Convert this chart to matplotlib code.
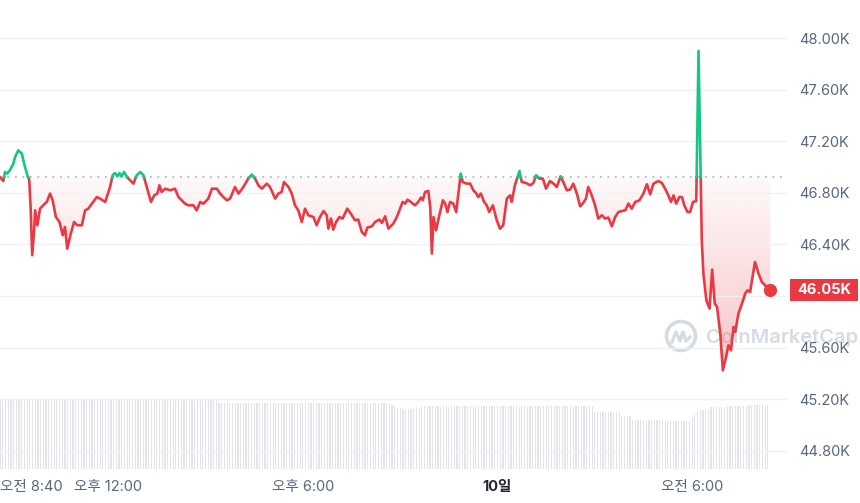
import numpy as np
import matplotlib.pyplot as plt
from matplotlib.patches import Polygon, Rectangle, Circle
from matplotlib.lines import Line2D
from matplotlib.ticker import FuncFormatter

plt.rcParams["font.family"] = ["Inter", "Noto Sans CJK KR", "DejaVu Sans"]

C_UP = "#16c784"
C_DN = "#ea3943"
C_TXT = "#58667e"
C_GRID = "#eff2f5"

# hours since 00:00 of day 9 (24+ = day 10)
times = [8.67, 8.77, 8.82, 8.89, 8.97, 9.08, 9.13, 9.23, 9.34, 9.41, 9.51, 9.57, 9.61, 9.66,
         9.72, 9.75, 9.82, 9.90, 10.00, 10.11, 10.21, 10.29, 10.39, 10.50, 10.60, 10.67, 10.74,
         10.85, 10.95, 11.05, 11.19, 11.29, 11.39, 11.50, 11.65, 11.75, 11.91, 12.06, 12.14,
         12.21, 12.29, 12.35, 12.42, 12.49, 12.58, 12.68, 12.78, 12.88, 12.99, 13.09, 13.19,
         13.32, 13.42, 13.52, 13.58, 13.65, 13.76, 13.91, 14.06, 14.17, 14.27, 14.37, 14.47,
         14.63, 14.73, 14.84, 14.94, 15.09, 15.20, 15.35, 15.45, 15.55, 15.66, 15.76, 15.91,
         16.02, 16.17, 16.32, 16.43, 16.53, 16.63, 16.74, 16.89, 16.99, 17.15, 17.25, 17.35,
         17.42, 17.56, 17.66, 17.76, 17.86, 17.97, 18.07, 18.17, 18.33, 18.43, 18.53, 18.64,
         18.74, 18.79, 18.87, 18.94, 19.03, 19.13, 19.23, 19.37, 19.48, 19.61, 19.71, 19.82,
         19.92, 19.99, 20.13, 20.23, 20.36, 20.44, 20.54, 20.64, 20.79, 20.90, 21.00, 21.08,
         21.16, 21.23, 21.33, 21.46, 21.56, 21.64, 21.70, 21.77, 21.87, 21.93, 21.98, 22.03,
         22.11, 22.21, 22.32, 22.39, 22.46, 22.54, 22.64, 22.73, 22.87, 22.93, 23.04, 23.16,
         23.26, 23.34, 23.41, 23.49, 23.59, 23.67, 23.75, 23.86, 23.98, 24.08, 24.18, 24.29,
         24.39, 24.44, 24.54, 24.68, 24.75, 24.88, 25.01, 25.11, 25.19, 25.29, 25.40, 25.50,
         25.62, 25.73, 25.83, 25.95, 26.03, 26.14, 26.24, 26.34, 26.45, 26.55, 26.63, 26.73,
         26.80, 26.91, 27.01, 27.11, 27.22, 27.32, 27.42, 27.53, 27.63, 27.73, 27.84, 27.94,
         28.04, 28.14, 28.25, 28.38, 28.50, 28.61, 28.71, 28.81, 28.96, 29.07, 29.17, 29.27,
         29.35, 29.43, 29.51, 29.61, 29.69, 29.76, 29.86, 29.94, 30.03, 30.13, 30.20, 30.30,
         30.35, 30.44, 30.54, 30.62, 30.70, 30.77, 30.87, 30.95, 31.05, 31.12, 31.20, 31.28,
         31.33, 31.43, 31.54, 31.64, 31.71, 31.79, 31.94, 32.05, 32.15, 32.25, 32.41]

price = [46920, 46891, 46961, 46949, 46974, 47026, 47077, 47129, 47104, 47026, 46936, 46897, 46690, 46316,
         46509, 46664, 46548, 46677, 46703, 46729, 46794, 46742, 46612, 46574, 46471, 46535, 46367,
         46484, 46574, 46548, 46548, 46664, 46677, 46716, 46767, 46755, 46729, 46845, 46936,
         46953, 46928, 46953, 46928, 46961, 46922, 46897, 46871, 46936, 46961, 46936, 46845,
         46729, 46780, 46794, 46858, 46806, 46832, 46819, 46832, 46767, 46742, 46716, 46703,
         46703, 46664, 46729, 46716, 46755, 46832, 46832, 46794, 46767, 46742, 46755, 46845,
         46794, 46845, 46910, 46941, 46910, 46858, 46832, 46871, 46845, 46755, 46794, 46806,
         46884, 46845, 46794, 46703, 46664, 46574, 46677, 46626, 46612, 46548, 46612, 46659,
         46626, 46522, 46600, 46515, 46574, 46612, 46600, 46677, 46639, 46587, 46592, 46496,
         46471, 46530, 46540, 46574, 46592, 46566, 46618, 46522, 46561, 46612, 46677, 46729,
         46716, 46747, 46729, 46703, 46729, 46763, 46742, 46806, 46814, 46690, 46329, 46612,
         46509, 46626, 46742, 46716, 46651, 46729, 46716, 46651, 46949, 46884, 46871, 46871,
         46819, 46798, 46767, 46794, 46729, 46703, 46651, 46703, 46587, 46522, 46548, 46755,
         46780, 46729, 46858, 46969, 46884, 46876, 46858, 46876, 46936, 46910, 46910, 46832,
         46891, 46871, 46845, 46928, 46884, 46819, 46825, 46871, 46794, 46695, 46716, 46755,
         46845, 46780, 46703, 46600, 46626, 46600, 46608, 46540, 46612, 46651, 46659, 46664,
         46716, 46677, 46729, 46742, 46794, 46866, 46788, 46871, 46891, 46876, 46832, 46780,
         46729, 46780, 46716, 46767, 46767, 46703, 46651, 46651, 46729, 46736, 47900, 46432,
         46174, 45967, 45902, 46205, 45941, 45915, 45709, 45424, 45527, 45618, 45579, 45760,
         45721, 45864, 45941, 46019, 46044, 46031, 46264, 46174, 46109, 46083, 46050]

# 24h volume (billions), read as runs of 5-minute bars
vol_levels = [30.0, 30.6, 30.2, 28.7, 28.0, 26.5, 26.1, 26.7, 27.2, 24.9, 23.0, 21.5, 21.0,
              22.5, 24.0, 25.0, 25.7, 26.3, 27.0, 27.5, 27.8]
vol_counts = [26, 11, 44, 64, 2, 2, 6, 1, 64, 10, 4, 11, 11, 1, 1, 1, 2, 2, 6, 8, 8]

xtick_pos = [8.67, 12, 18, 24, 30]
xtick_lab = ["오전 8:40", "오후 12:00", "오후 6:00", "10일", "오전 6:00"]
ytick_pos = [44800, 45200, 45600, 46000, 46400, 46800, 47200, 47600, 48000]

t = np.array(times)
p = np.array(price, dtype=float)
base = p[0]

W, H = 860, 503
fig = plt.figure(figsize=(W / 100, H / 100), dpi=100)
fig.patch.set_facecolor("white")
rect = [0, 1 - 470 / H, 787 / W, 470 / H]
ax_v = fig.add_axes(rect)
ax = fig.add_axes(rect, sharex=ax_v)
ax_v.patch.set_visible(False)
ax.patch.set_visible(False)

# volume bars
vol = np.repeat(vol_levels, vol_counts)
vt = t[0] + np.arange(len(vol)) * 5 / 60
ax_v.bar(vt, vol, width=5 / 60 * 0.45, color="#e1e5eb", linewidth=0)
ax_v.set_ylim(-0.43, 204)
ax_v.set_yticks([])
ax_v.tick_params(bottom=False, labelbottom=False)
for s in ax_v.spines.values():
    s.set_visible(False)

# split line where it crosses the baseline
tt, pp = [t[0]], [p[0]]
for i in range(1, len(t)):
    if (p[i - 1] - base) * (p[i] - base) < 0:
        f = (base - p[i - 1]) / (p[i] - p[i - 1])
        tt.append(t[i - 1] + f * (t[i] - t[i - 1]))
        pp.append(base)
    tt.append(t[i])
    pp.append(p[i])
tt, pp = np.array(tt), np.array(pp)

# gradient fill below baseline
verts = [(tt[0], base)] + list(zip(tt, np.minimum(pp, base))) + [(tt[-1], base)]
poly = Polygon(verts, closed=True, facecolor="none", edgecolor="none")
ax.add_patch(poly)
grad = np.zeros((256, 1, 4))
grad[..., 0], grad[..., 1], grad[..., 2] = 234 / 255, 57 / 255, 67 / 255
grad[:, 0, 3] = np.linspace(0.30, 0.03, 256)
im = ax.imshow(grad, extent=[tt[0], tt[-1], pp.min(), base], origin="lower",
               aspect="auto", zorder=1, interpolation="bilinear")
im.set_clip_path(poly)

ax.axhline(base, color="#a6b0c3", lw=1.2, ls=(0, (1, 3.5)), zorder=2)

up = np.where(pp >= base, pp, np.nan)
dn = np.where(pp <= base, pp, np.nan)
ax.plot(tt, dn, color=C_DN, lw=1.9, solid_joinstyle="round", zorder=3)
ax.plot(tt, up, color=C_UP, lw=1.9, solid_joinstyle="round", zorder=3)
ax.plot(t[-1], p[-1], "o", color=C_DN, ms=8.5, zorder=4)

ax.set_xlim(8.667, 8.667 + 787 / 32.44)
ax.set_ylim(48000 - 432 / 129 * 1000, 48000 + 38 / 129 * 1000)

# the 46.00K label sits under the last-price tag, so it is left blank
ax.yaxis.tick_right()
ax.set_yticks(ytick_pos)
ax.yaxis.set_major_formatter(
    FuncFormatter(lambda v, _: "" if abs(v - p[-1]) < 100 else f"{v / 1000:.2f}K"))
ax.tick_params(axis="y", length=0, pad=9, labelsize=10.5, labelcolor=C_TXT)
ax.grid(axis="y", color=C_GRID, lw=1)
ax.set_xticks(xtick_pos)
ax.set_xticklabels(xtick_lab)
ax.tick_params(axis="x", length=0, pad=7.5, labelsize=10.5, labelcolor=C_TXT)
labs = ax.get_xticklabels()
labs[0].set_ha("left")
labs[3].set_fontweight("bold")
labs[3].set_color("#222531")
for s in ax.spines.values():
    s.set_visible(False)

# last price tag
bt = ax.get_yaxis_transform()
ax.add_patch(Rectangle((790 / 787, p[-1] - 85), 68 / 787, 170, transform=bt,
                       facecolor=C_DN, edgecolor="none", clip_on=False, zorder=10))
ax.text(824 / 787, p[-1], f"{p[-1] / 1000:.2f}K", transform=bt, ha="center", va="center",
        color="white", fontsize=10.5, fontweight="bold", zorder=11, clip_on=False)

# watermark
fig.text(706 / W, 1 - 338 / H, "CoinMarketCap", fontsize=14.5, fontweight="semibold",
         color="#c5ccd8", alpha=0.7, ha="left", va="center", zorder=-1)
fig.add_artist(Circle((6.81, 1.67), 0.145, transform=fig.dpi_scale_trans, fill=False,
                      edgecolor="#c5ccd8", lw=2.6, alpha=0.7, zorder=-1))
fig.add_artist(Line2D([6.72, 6.76, 6.80, 6.83, 6.86, 6.90], [1.61, 1.71, 1.62, 1.71, 1.62, 1.66],
                      transform=fig.dpi_scale_trans, color="#c5ccd8", lw=2.4, alpha=0.7,
                      solid_joinstyle="round", zorder=-1))

fig.savefig("out.png", dpi=100, facecolor="white")
